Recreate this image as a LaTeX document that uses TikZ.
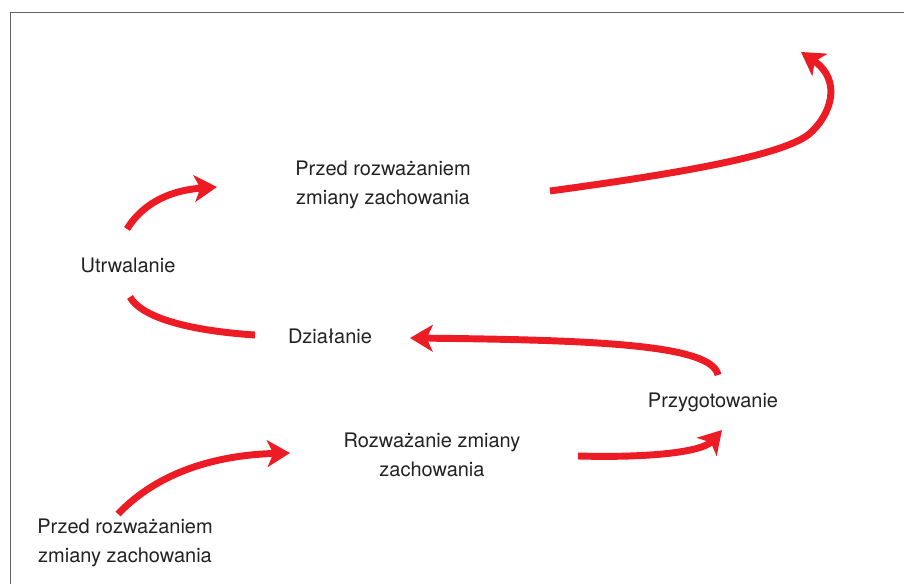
\documentclass[tikz,border=0pt]{standalone}
\usepackage{fontspec}
\setmainfont{TeX Gyre Heros}
\usetikzlibrary{arrows.meta}
\definecolor{rosso}{HTML}{ED1C24}
\definecolor{testo}{HTML}{222222}

\begin{document}
\begin{tikzpicture}[
    x=0.75pt, y=-0.75pt,
    etap/.style={align=center, text=testo, inner sep=0pt, font=\fontsize{15}{21.5}\selectfont},
    strzalka/.style={draw=rosso, line width=5.2pt, -{Stealth[length=17pt, width=20pt, inset=4.5pt]}},
    luk/.style={draw=rosso, line width=5.2pt},
    ramka/.style={draw=black!62, line width=1.3pt}
]
    \useasboundingbox (0,0) rectangle (904,584);

    % Ramka
    \draw[ramka] (10.5,584) -- (10.5,12.5) -- (904,12.5);

    % Etapy
    \node[etap] (przed1) at (383,185) {Przed rozważaniem\\zmiany zachowania};
    \node[etap] (utrw) at (128,265) {Utrwalanie};
    \node[etap] (dzial) at (330,336) {Działanie};
    \node[etap] (przyg) at (713,402) {Przygotowanie};
    \node[etap] (rozw) at (432,455) {Rozważanie zmiany\\zachowania};
    \node[etap] (przed2) at (125,543) {Przed rozważaniem\\zmiany zachowania};

    % Konce strzalek
    \coordinate (s1) at (118,514);  \coordinate (e1) at (290,453);
    \coordinate (s2) at (578,456);  \coordinate (e2) at (722,430);
    \coordinate (s3) at (718,375);  \coordinate (e3) at (410,338);
    \coordinate (s4) at (255,335);  \coordinate (e4) at (130,297);
    \coordinate (s5) at (127,229);  \coordinate (e5) at (217,187);
    \coordinate (s6) at (550,191);  \coordinate (e6) at (801,52);

    % Strzalki
    \draw[strzalka] (s1) .. controls (160,470) and (220,455) .. (e1);
    \draw[strzalka] (s2) .. controls (650,458) and (702,452) .. (e2);
    \draw[strzalka] (s3) .. controls (712,345) and (600,340) .. (e3);
    \draw[luk] (s4) .. controls (180,330) and (140,315) .. (e4);
    \draw[strzalka] (s5) .. controls (145,200) and (175,190) .. (e5);
    \draw[strzalka] (s6) .. controls (690,172) and (780,155) .. (808,135)
        .. controls (832,115) and (842,80) .. (e6);

\end{tikzpicture}
\end{document}
